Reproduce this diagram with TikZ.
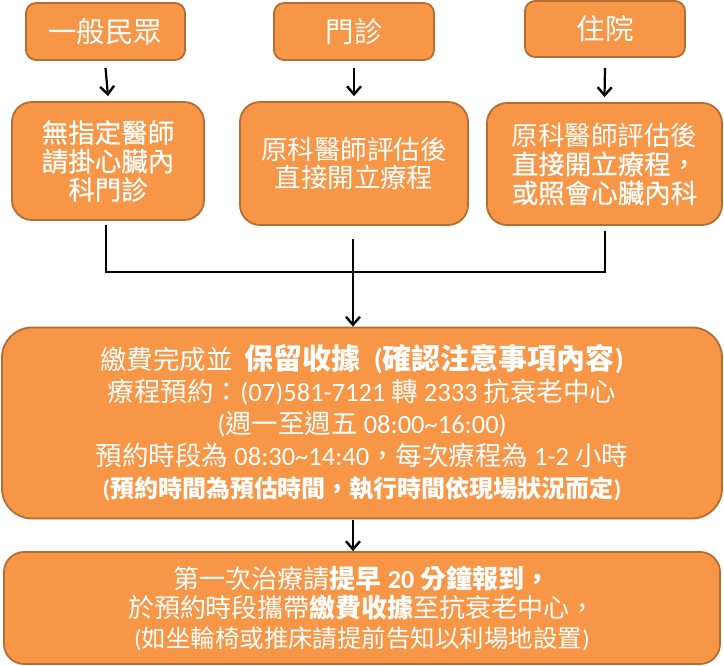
\documentclass[tikz,border=0pt]{standalone}
\usepackage{fontspec}
\setmainfont{Noto Sans CJK TC}
\newfontfamily\lat{Carlito}
\newfontfamily\cjkmed[FakeBold=0.6]{Noto Sans CJK TC}
\usetikzlibrary{arrows.meta}
\definecolor{boxfill}{HTML}{F79646}
\definecolor{boxline}{HTML}{B56D34}
\begin{document}
\begin{tikzpicture}[x=1pt,y=-1pt,
  box/.style={draw=boxline,fill=boxfill,line width=1.8pt,text=white,align=center,inner sep=0pt},
  topbox/.style={box,rounded corners=10pt,font=\fontsize{28.5}{31}\selectfont},
  midbox/.style={box,rounded corners=20pt,font=\fontsize{26.5}{28.5}\selectfont},
  conn/.style={line width=2.2pt,black},
  arr/.style={conn,-{Straight Barb[length=8pt,width=14pt,line width=2.4pt]}}]
\useasboundingbox (0,0) rectangle (724,666);
% top row
\node[topbox,minimum width=159pt,minimum height=57pt] (a) at (105.5,31.5) {一般民眾};
\node[topbox,minimum width=160pt,minimum height=57pt] (b) at (354,31.5) {門診};
\node[topbox,minimum width=160pt,minimum height=56pt] (c) at (605,29) {住院};
% middle row
\node[midbox,minimum width=192pt,minimum height=118pt] (d) at (108,161) {{\cjkmed 無指定醫師}\\{\cjkmed 請掛心臟內}\\{\cjkmed 科門診}};
\node[midbox,minimum width=228pt,minimum height=123pt] (e) at (354,163.5) {原科醫師評估後\\直接開立療程};
\node[midbox,minimum width=235pt,minimum height=122pt,font=\fontsize{26.5}{29}\selectfont] (f) at (604.5,164) {原科醫師評估後\\{\cjkmed 直接開立療程，}\\{\cjkmed 或照會心臟內科}};
% big boxes
\node[box,rounded corners=30pt,minimum width=720pt,minimum height=191pt,font=\fontsize{26.5}{32}\selectfont] (g) at (362,423) {%
  繳費完成並\ \ {\bfseries\fontsize{29}{32}\selectfont 保留收據\ \ {\lat\bfseries (}確認注意事項內容{\lat\bfseries )}}\\
  療程預約：{\lat (07)581-7121} 轉 {\lat 2333} 抗衰老中心\\
  {\lat (}週一至週五 {\lat 08:00\textasciitilde 16:00)}\\
  預約時段為 {\lat 08:30\textasciitilde 14:40}，每次療程為 {\lat 1-2} 小時\\
  {\bfseries\fontsize{24}{32}\selectfont {\lat\bfseries (}預約時間為預估時間，執行時間依現場狀況而定{\lat\bfseries )}}};
\node[box,rounded corners=20pt,minimum width=716pt,minimum height=112pt,font=\fontsize{26}{29.5}\selectfont] (h) at (362,608) {%
  第一次治療請{\bfseries 提早 {\lat\bfseries 20} 分鐘報到，}\\
  於預約時段攜帶{\bfseries 繳費收據}至抗衰老中心，\\
  {\fontsize{24.5}{29.5}\selectfont {\lat (}如坐輪椅或推床請提前告知以利場地設置{\lat )}}};
% connectors
\draw[arr] ([yshift=-7pt]a.south) -- ([yshift=5pt]d.north);
\draw[arr] ([yshift=-7pt]b.south) -- ([yshift=5pt]e.north);
\draw[arr] ([yshift=-10pt]c.south) -- ([yshift=5pt]f.north);
\coordinate (jd) at (106,272);
\coordinate (jf) at (605,272);
\draw[conn] ([xshift=-2pt,yshift=-4pt]d.south) -- (jd) -- (jf) -- ([xshift=0.5pt,yshift=-5pt]f.south);
\draw[arr] ([xshift=-1pt,yshift=-13pt]e.south) -- ([xshift=-1pt]e.south |- g.north);
\draw[arr] ([xshift=-1pt,yshift=-1pt]e.south |- g.south) -- ([xshift=-1pt]e.south |- h.north);
\end{tikzpicture}
\end{document}
